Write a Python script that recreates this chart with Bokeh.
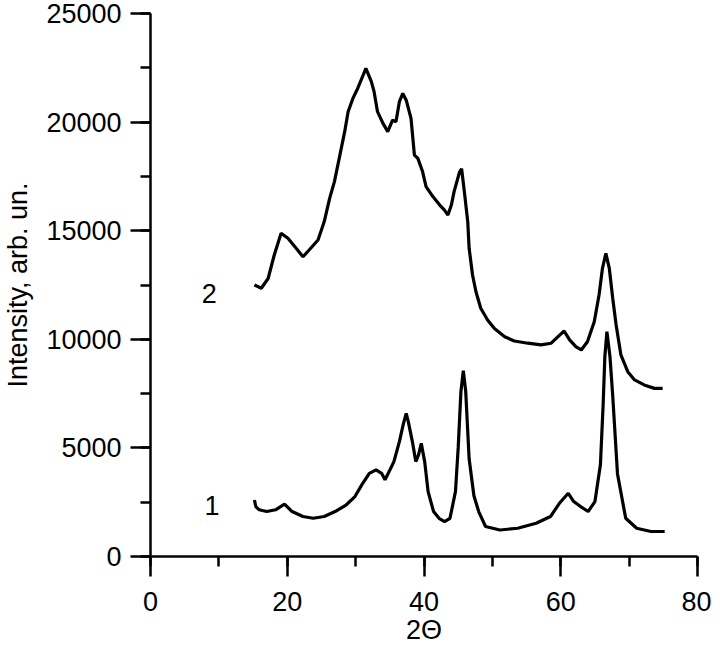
from bokeh.plotting import figure
from bokeh.models import Range1d, SingleIntervalTicker, Label
from bokeh.embed import file_html
from bokeh.resources import INLINE

# Curve 1 (lower pattern)
x1 = [15.2, 15.4, 15.9, 17.0, 18.3, 19.6, 20.7, 22.3, 23.8, 25.4, 27.0, 28.6,
      29.9, 30.9, 32.0, 33.0, 33.8, 34.3, 34.9, 35.6, 36.4, 37.0, 37.4, 37.7,
      38.3, 38.8, 39.2, 39.6, 40.1, 40.6, 41.4, 42.2, 43.0, 43.8, 44.6, 45.0,
      45.4, 45.75, 46.1, 46.6, 47.3, 48.0, 49.0, 51.1, 53.7, 56.4, 58.5, 59.8,
      61.1, 61.9, 62.9, 64.0, 65.0, 65.8, 66.2, 66.45, 66.75, 67.2, 67.6, 68.3,
      69.5, 71.1, 73.2, 75.2]
y1 = [2600, 2300, 2150, 2070, 2150, 2410, 2070, 1840, 1760, 1840, 2070, 2370,
      2760, 3300, 3830, 3990, 3830, 3530, 3910, 4370, 5290, 6130, 6590, 6210,
      5290, 4370, 4680, 5210, 4370, 2990, 2070, 1760, 1610, 1760, 2990, 5000,
      7600, 8550, 7600, 4500, 2800, 2070, 1380, 1220, 1300, 1530, 1840, 2450,
      2910, 2530, 2300, 2070, 2530, 4220, 7000, 9200, 10350, 9200, 7400, 3800,
      1760, 1300, 1150, 1150]

# Curve 2 (upper pattern)
x2 = [15.2, 16.2, 17.2, 18.1, 19.1, 20.1, 21.3, 22.3, 23.2, 24.5, 25.4, 26.2,
      26.9, 27.6, 28.4, 28.9, 29.6, 30.3, 31.1, 31.5, 32.3, 32.7, 33.2, 34.0,
      34.7, 35.4, 35.9, 36.4, 36.9, 37.4, 38.1, 38.6, 39.1, 39.8, 40.3, 41.3,
      42.3, 43.0, 43.5, 44.0, 44.4, 45.2, 45.5, 45.9, 46.4, 46.6, 47.1, 47.6,
      48.3, 49.3, 50.3, 51.8, 53.2, 55.2, 57.1, 58.6, 59.6, 60.5, 61.3, 62.2,
      63.0, 63.9, 64.9, 65.6, 66.1, 66.6, 67.1, 67.6, 68.1, 68.8, 69.8, 70.8,
      72.2, 73.7, 74.9]
y2 = [12500, 12350, 12800, 13880, 14880, 14650, 14190, 13800, 14110, 14570,
      15410, 16490, 17260, 18330, 19560, 20480, 21090, 21550, 22160, 22470,
      21860, 21400, 20480, 19940, 19560, 20090, 20020, 20940, 21320, 21010,
      20170, 18480, 18330, 17710, 17030, 16570, 16180, 15950, 15720, 16180,
      16800, 17700, 17850, 16800, 15410, 14190, 12960, 12190, 11430, 10890,
      10500, 10120, 9920, 9820, 9740, 9820, 10120, 10380, 9970, 9660, 9510,
      9890, 10810, 12040, 13270, 13960, 13270, 11890, 10660, 9280, 8510, 8130,
      7900, 7740, 7740]

curve_names = ["1", "2"]
name_x = [9.0, 8.6]
name_y = [2360, 12115]

x_title = "2\u0398"
y_title = "Intensity, arb. un."

FONT = "Liberation Sans"

p = figure(frame_width=547, frame_height=543,
           min_border_left=143, min_border_right=14,
           min_border_top=13, min_border_bottom=88,
           x_range=Range1d(0, 80), y_range=Range1d(0, 25000),
           output_backend="svg", toolbar_location=None,
           background_fill_color="white", border_fill_color="white")
p.outline_line_color = None
p.xgrid.visible = False
p.ygrid.visible = False

p.xaxis.ticker = SingleIntervalTicker(interval=20, num_minor_ticks=2)
p.yaxis.ticker = SingleIntervalTicker(interval=5000, num_minor_ticks=2)

for ax in (p.xaxis[0], p.yaxis[0]):
    ax.axis_line_width = 2.5
    ax.axis_line_color = "black"
    ax.major_tick_line_width = 2.5
    ax.minor_tick_line_width = 2.5
    ax.major_tick_line_color = "black"
    ax.minor_tick_line_color = "black"
    ax.major_tick_out = 20
    ax.major_tick_in = 0
    ax.minor_tick_out = 10
    ax.minor_tick_in = 0
    ax.major_label_text_font = FONT
    ax.major_label_text_font_size = "27px"
    ax.major_label_text_color = "black"
    ax.axis_label_text_font = FONT
    ax.axis_label_text_font_size = "27px"
    ax.axis_label_text_font_style = "normal"
    ax.axis_label_text_color = "black"

p.xaxis.major_label_standoff = 15
p.yaxis.major_label_standoff = 9
p.xaxis.axis_label = x_title
p.yaxis.axis_label = y_title
p.xaxis.axis_label_standoff = 1
p.yaxis.axis_label_standoff = 10

p.line(x1, y1, line_color="black", line_width=3.2)
p.line(x2, y2, line_color="black", line_width=3.2)

for t, lx, ly in zip(curve_names, name_x, name_y):
    p.add_layout(Label(x=lx, y=ly, text=t, text_font=FONT,
                       text_font_size="27px", text_align="center",
                       text_baseline="middle", text_color="black"))

open("out.html", "w").write(file_html(p, INLINE))
